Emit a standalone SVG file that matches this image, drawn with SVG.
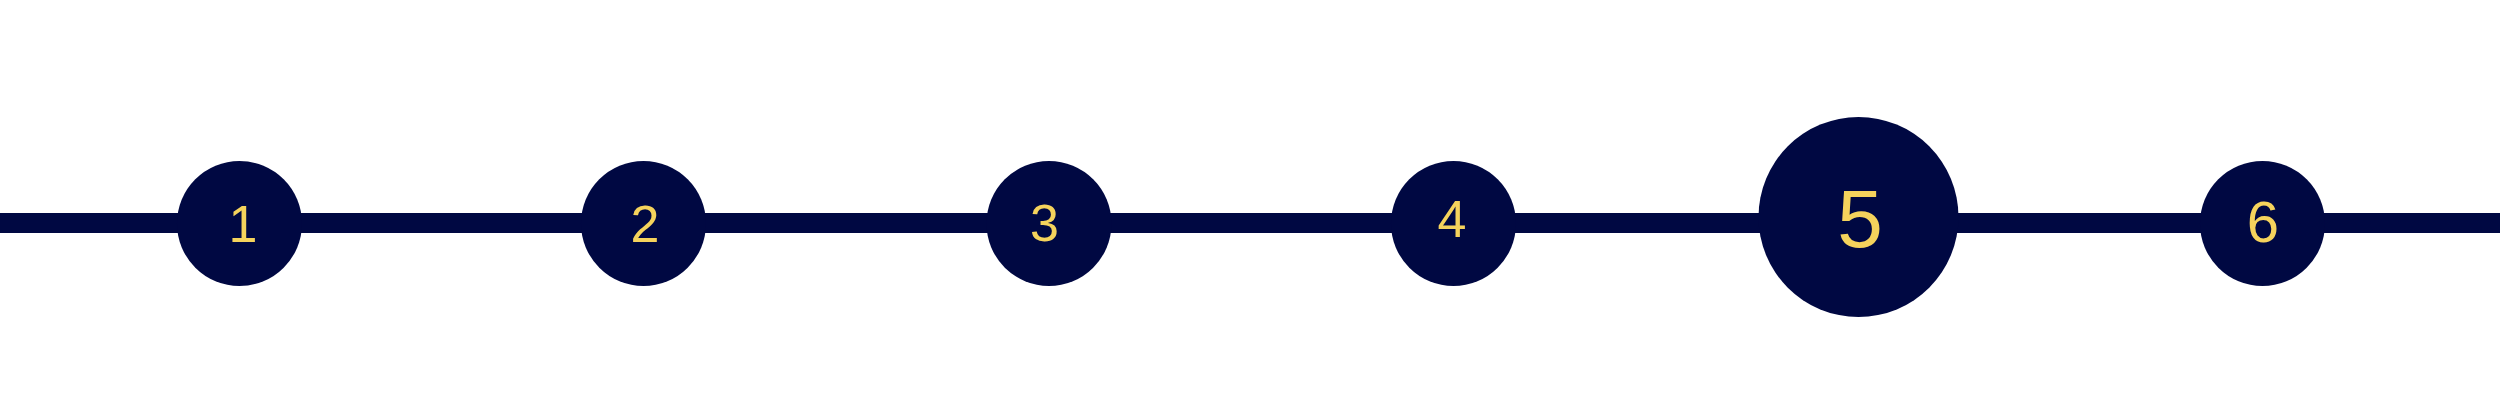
<svg xmlns="http://www.w3.org/2000/svg" width="2500" height="420" viewBox="0 0 2500 420">
  <style>
    .node { fill: #000842; }
    .lbl { fill: #F5D35C; text-anchor: middle; font-family: 'Liberation Sans', 'Arimo', Arial, sans-serif; }
  </style>
  <rect width="2500" height="420" fill="#ffffff"/>
  <g id="connectors">
    <line x1="0" y1="223" x2="2500" y2="223" stroke="#000842" stroke-width="20"/>
  </g>
  <g id="node1">
    <circle class="node" cx="239.5" cy="223.5" r="62.5"/>
    <text class="lbl" x="243" y="242" font-size="52">1</text>
  </g>
  <g id="node2">
    <circle class="node" cx="643.5" cy="223.5" r="62.5"/>
    <text class="lbl" x="645" y="242" font-size="52">2</text>
  </g>
  <g id="node3">
    <circle class="node" cx="1049" cy="223.5" r="62.5"/>
    <text class="lbl" x="1044.5" y="241" font-size="52">3</text>
  </g>
  <g id="node4">
    <circle class="node" cx="1453.5" cy="223.5" r="62.5"/>
    <text class="lbl" x="1452" y="237" font-size="52">4</text>
  </g>
  <g id="node5">
    <circle class="node" cx="1858.5" cy="217" r="100"/>
    <text class="lbl" x="1860" y="247" font-size="82">5</text>
  </g>
  <g id="node6">
    <circle class="node" cx="2262.5" cy="223.5" r="62.5"/>
    <text class="lbl" x="2263" y="242" font-size="58">6</text>
  </g>
</svg>
